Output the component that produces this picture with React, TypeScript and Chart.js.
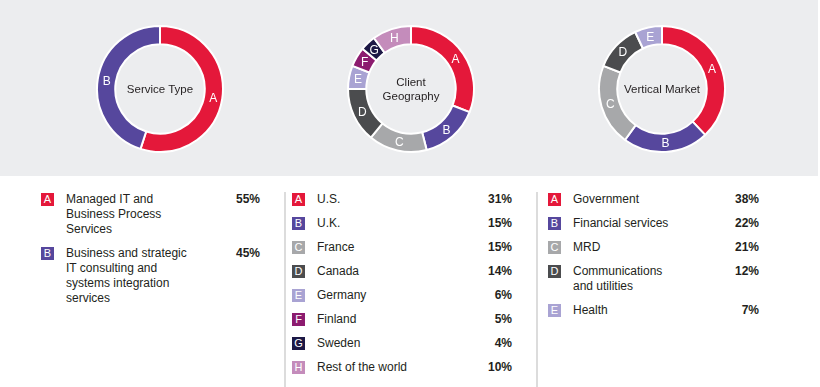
import React, { useEffect, useRef } from "react";
import { Chart, registerables } from "chart.js";

Chart.register(...registerables);

// ---- data ----
const serviceLetters = ["A", "B"];
const serviceLabels = [
  "Managed IT and\nBusiness Process\nServices",
  "Business and strategic\nIT consulting and\nsystems integration\nservices",
];
const serviceValues = [55, 45];

const geoLetters = ["A", "B", "C", "D", "E", "F", "G", "H"];
const geoLabels = ["U.S.", "U.K.", "France", "Canada", "Germany", "Finland", "Sweden", "Rest of the world"];
const geoValues = [31, 15, 15, 14, 6, 5, 4, 10];

const verticalLetters = ["A", "B", "C", "D", "E"];
const verticalLabels = ["Government", "Financial services", "MRD", "Communications\nand utilities", "Health"];
const verticalValues = [38, 22, 21, 12, 7];

const COLORS: Record<string, string> = {
  A: "#E4183A",
  B: "#56479D",
  C: "#A7A8AA",
  D: "#4B4C4E",
  E: "#A9A3D3",
  F: "#8C1B6F",
  G: "#1C1845",
  H: "#C48CBB",
};

const FONT = '"Liberation Sans", Arial, Helvetica, sans-serif';
const TEXT = "#231F20";

const arcLabels = {
  id: "arcLabels",
  afterDatasetsDraw(chart: any) {
    const meta = chart.getDatasetMeta(0);
    const ctx = chart.ctx;
    ctx.save();
    ctx.fillStyle = "#ffffff";
    ctx.font = `12px ${FONT}`;
    ctx.textAlign = "center";
    ctx.textBaseline = "middle";
    meta.data.forEach((arc: any, i: number) => {
      const p = arc.getCenterPoint();
      ctx.fillText(String(chart.data.labels[i]), p.x, p.y + 1);
    });
    ctx.restore();
  },
};

function Donut({ letters, values, center, cx, cy }: { letters: string[]; values: number[]; center: string; cx: number; cy: number }) {
  const ref = useRef<HTMLCanvasElement>(null);
  const size = 128;
  useEffect(() => {
    const chart = new Chart(ref.current!, {
      type: "doughnut",
      data: {
        labels: letters,
        datasets: [
          {
            data: values,
            backgroundColor: letters.map((l) => COLORS[l]),
            borderColor: "#ffffff",
            borderWidth: 2,
          },
        ],
      },
      options: {
        responsive: false,
        animation: false,
        cutout: "71%",
        events: [],
        layout: { padding: 0 },
        plugins: { legend: { display: false }, tooltip: { enabled: false } },
      },
      plugins: [arcLabels],
    } as any);
    return () => chart.destroy();
  }, []);
  return (
    <>
      <canvas
        ref={ref}
        width={size}
        height={size}
        style={{ position: "absolute", left: cx - size / 2, top: cy - size / 2, width: size, height: size }}
      />
      <div
        style={{
          position: "absolute",
          left: cx - 45,
          top: cy - 30,
          width: 90,
          height: 60,
          display: "flex",
          alignItems: "center",
          justifyContent: "center",
          textAlign: "center",
          whiteSpace: "pre-line",
          font: `11.5px/14px ${FONT}`,
          color: TEXT,
        }}
      >
        {center}
      </div>
    </>
  );
}

function Legend({ letters, labels, values, left, width }: { letters: string[]; labels: string[]; values: number[]; left: number; width: number }) {
  return (
    <div style={{ position: "absolute", left, top: 192, width }}>
      {letters.map((l, i) => (
        <div key={l} style={{ position: "relative", marginBottom: 9, minHeight: 15 }}>
          <div
            style={{
              position: "absolute",
              left: 0,
              top: 1,
              width: 13,
              height: 13,
              background: COLORS[l],
              color: "#fff",
              font: `11px/13px ${FONT}`,
              textAlign: "center",
            }}
          >
            {l}
          </div>
          <div style={{ marginLeft: 25, whiteSpace: "pre-line", font: `12px/15px ${FONT}`, color: TEXT }}>{labels[i]}</div>
          <div
            style={{
              position: "absolute",
              right: 0,
              top: 0,
              font: `bold 12px/15px ${FONT}`,
              color: TEXT,
            }}
          >
            {values[i]}%
          </div>
        </div>
      ))}
    </div>
  );
}

export default function App() {
  return (
    <div style={{ position: "absolute", left: 0, top: 0, width: 820, height: 387, background: "#ffffff", overflow: "hidden" }}>
      <div style={{ position: "absolute", left: 0, top: 0, width: 818, height: 176, background: "#ECEDEF" }} />
      <Donut letters={serviceLetters} values={serviceValues} center={"Service Type"} cx={160} cy={89} />
      <Donut letters={geoLetters} values={geoValues} center={"Client\nGeography"} cx={411} cy={89} />
      <Donut letters={verticalLetters} values={verticalValues} center={"Vertical Market"} cx={662} cy={89} />
      <div style={{ position: "absolute", left: 284, top: 192, width: 2, height: 195, background: "#DCDCDC" }} />
      <div style={{ position: "absolute", left: 536, top: 192, width: 2, height: 195, background: "#DCDCDC" }} />
      <Legend letters={serviceLetters} labels={serviceLabels} values={serviceValues} left={41} width={219} />
      <Legend letters={geoLetters} labels={geoLabels} values={geoValues} left={292} width={220} />
      <Legend letters={verticalLetters} labels={verticalLabels} values={verticalValues} left={548} width={211} />
    </div>
  );
}
